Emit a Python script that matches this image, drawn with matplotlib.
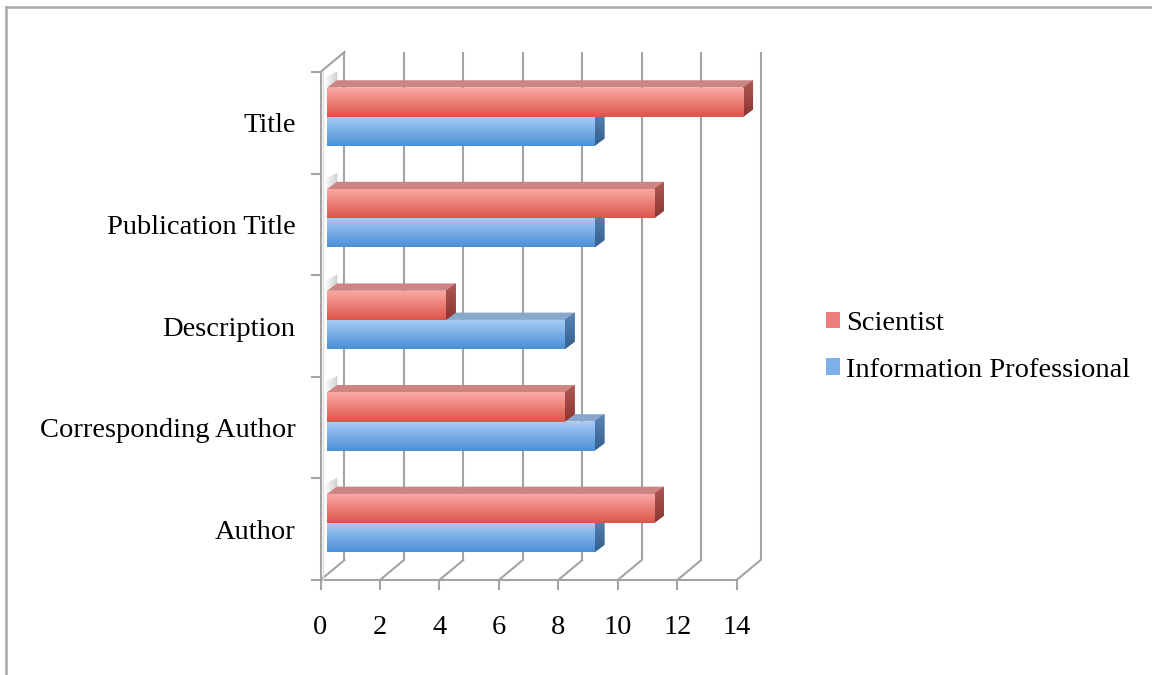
import matplotlib
matplotlib.use("Agg")
import matplotlib.pyplot as plt
import numpy as np
from matplotlib.patches import Polygon, Patch
from matplotlib.lines import Line2D
from matplotlib.colors import LinearSegmentedColormap

# ---------------- data ----------------
categories = ["Author", "Corresponding Author", "Description", "Publication Title", "Title"]
scientist = [11, 8, 4, 11, 14]
info_prof = [9, 9, 8, 9, 9]
series_names = ["Scientist", "Information Professional"]
xticks = [0, 2, 4, 6, 8, 10, 12, 14]

# ---------------- style ----------------
FONT = "Liberation Serif"
FS = 20.5
GRID = "#a3a3a3"
SCI = dict(front=("#fcaaa7", "#db5448"), top="#cd8584", side=("#b05a56", "#8c3530"), legend="#ec7f79")
IPR = dict(front=("#a9cdf7", "#4a8fd6"), top="#89a6cb", side=("#5a86b8", "#34608e"), legend="#7fb0ea")

W, H = 1152, 675
fig = plt.figure(figsize=(W / 100, H / 100), dpi=100)
fig.patch.set_facecolor("white")

XMAX_SHOWN = 14
XLIM = 15.5
fx0, fx1, fy0, fy1 = 320.5, 736.7, 580, 72
px_per_unit = (fx1 - fx0) / XMAX_SHOWN
ax = fig.add_axes([fx0 / W, 1 - fy0 / H, px_per_unit * XLIM / W, (fy0 - fy1) / H])
ax.set_facecolor("none")
for s in ax.spines.values():
    s.set_visible(False)

WDX, WDY = 0.807, 0.197
BX0 = 0.22
BH = 0.287
BC = 0.56
BDX, BDY = 0.33, 0.072

lw = 1.5
ncat = len(categories)
for t in xticks:
    ax.plot([t + WDX, t + WDX], [WDY, ncat + WDY], color=GRID, lw=lw, clip_on=False, zorder=1,
            solid_capstyle="butt")
    ax.plot([t, t + WDX], [0, WDY], color=GRID, lw=lw, clip_on=False, zorder=1)
ax.plot([0, XMAX_SHOWN], [0, 0], color=GRID, lw=lw, clip_on=False, zorder=1)
ax.plot([0, 0], [0, ncat], color=GRID, lw=lw, clip_on=False, zorder=1)
ax.plot([0, WDX], [ncat, ncat + WDY], color=GRID, lw=lw, clip_on=False, zorder=1)
ax.plot([0.1, 0.1], [0, ncat], color="#dddddd", lw=1.0, clip_on=False, zorder=1)

ax.set_xticks(xticks)
ax.set_xticklabels([str(t) for t in xticks], fontsize=FS, family=FONT)
ax.set_yticks(range(ncat + 1))
ax.set_yticklabels([])
ax.set_yticks([i + 0.5 for i in range(ncat)], minor=True)
ax.set_yticklabels(categories, minor=True, fontsize=FS, family=FONT)
ax.tick_params(axis="x", which="major", direction="out", length=7, width=lw, color=GRID, pad=18)
ax.tick_params(axis="y", which="major", direction="out", length=7, width=lw, color=GRID)
ax.tick_params(axis="y", which="minor", length=0, pad=18)


def grad(c_top, c_bot):
    return LinearSegmentedColormap.from_list("g", [c_bot, c_top])


gradient = np.linspace(0, 1, 256).reshape(-1, 1)
shadow_cmap = LinearSegmentedColormap.from_list("s", ["#ffffff", "#c4c4c4"])


def draw_bar(y_bot, v, st, z, shadow=False):
    x0 = BX0
    y_top = y_bot + BH
    if shadow:
        sh = Polygon([(x0 - 0.1, y_top - 0.02), (x0 - 0.1, y_top + 0.1), (x0 + 0.35, y_top + 0.16),
                      (x0 + 0.35, y_top)], closed=True, facecolor="none", edgecolor="none", zorder=z - 0.5)
        ax.add_patch(sh)
        ims = ax.imshow(np.linspace(0, 1, 64).reshape(1, -1), cmap=shadow_cmap, aspect="auto", alpha=0.8,
                        extent=[x0 - 0.1, x0 + 0.35, y_top - 0.02, y_top + 0.16], zorder=z - 0.5)
        ims.set_clip_path(sh)
    ax.add_patch(Polygon([(x0, y_top), (x0 + v, y_top), (x0 + v + BDX, y_top + BDY), (x0 + BDX, y_top + BDY)],
                         closed=True, facecolor=st["top"], edgecolor="none", zorder=z))
    side = Polygon([(x0 + v, y_bot), (x0 + v + BDX, y_bot + BDY), (x0 + v + BDX, y_top + BDY), (x0 + v, y_top)],
                   closed=True, facecolor=st["side"][1], edgecolor="none", zorder=z)
    ax.add_patch(side)
    im = ax.imshow(gradient, cmap=grad(*st["side"]), origin="lower", aspect="auto",
                   extent=[x0 + v, x0 + v + BDX, y_bot, y_top + BDY], zorder=z, interpolation="bilinear")
    im.set_clip_path(side)
    bars = ax.barh([y_bot + BH / 2], [v], height=BH, left=x0, color=st["front"][1], edgecolor="none",
                   zorder=z + 0.1)
    rect = bars.patches[0]
    im2 = ax.imshow(gradient, cmap=grad(*st["front"]), origin="lower", aspect="auto",
                    extent=[x0, x0 + v, y_bot, y_top], zorder=z + 0.2, interpolation="bilinear")
    im2.set_clip_path(rect)


for i in range(ncat):
    c = i + BC
    draw_bar(c - BH, info_prof[i], IPR, 3 + i * 2)
    draw_bar(c, scientist[i], SCI, 4 + i * 2, shadow=True)

ax.set_xlim(0, XLIM)
ax.set_ylim(0, ncat)

handles = [Patch(facecolor=SCI["legend"], edgecolor="none"), Patch(facecolor=IPR["legend"], edgecolor="none")]
fig.legend(handles, series_names, loc="center left", bbox_to_anchor=(826 / W, 1 - 347 / H), frameon=False,
           prop={"family": FONT, "size": FS}, handlelength=0.5, handleheight=0.5, handletextpad=0.22,
           labelspacing=0.75, borderaxespad=0, borderpad=0)

fig.add_artist(Line2D([6 / W, 6 / W], [0, 1 - 7 / H], color="#a8a8a8", lw=1.8, transform=fig.transFigure))
fig.add_artist(Line2D([6 / W, 1], [1 - 7 / H, 1 - 7 / H], color="#a8a8a8", lw=1.8, transform=fig.transFigure))

fig.savefig("out.png", dpi=100, facecolor="white")
